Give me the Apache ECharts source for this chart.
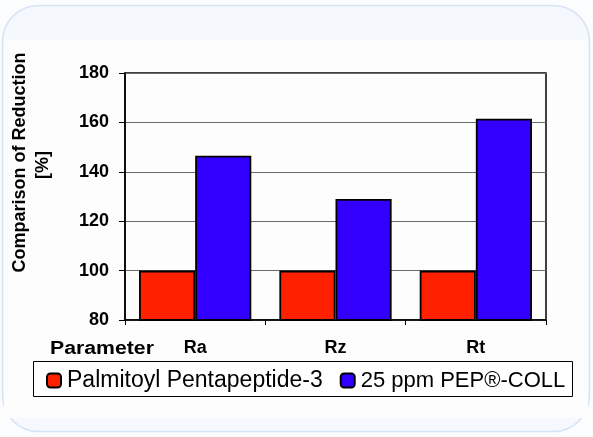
<!DOCTYPE html>
<html><head><meta charset="utf-8">
<script src="https://cdn.jsdelivr.net/npm/echarts@6/dist/echarts.min.js"></script>
<style>html,body{margin:0;padding:0;background:#fbfcfe;}#c{width:593px;height:437px;}</style>
</head><body><div id="c"></div>
<script>
var categories = ['Ra', 'Rz', 'Rt'];
var palmitoyl = [100, 100, 100];
var pepColl = [146.5, 129, 161.5];
var yTicks = {min: 80, max: 180, interval: 20};
var seriesNames = ['Palmitoyl Pentapeptide-3', '25 ppm PEP\u00AE-COLL'];

var chart = echarts.init(document.getElementById('c'), null, {renderer: 'canvas'});
var F = '"Liberation Sans", Arial, sans-serif';
chart.setOption({
  animation: false,
  backgroundColor: '#fbfcfe',
  graphic: [
    {type: 'rect', z: -10, shape: {x: 2.5, y: 5.5, width: 587, height: 426, r: 36},
     style: {fill: '#f5f8fc', stroke: '#d6e3f7', lineWidth: 1.5}},
    {type: 'rect', z: -9, shape: {x: 4, y: 40, width: 584, height: 378},
     style: {fill: '#fdfdfd'}},
    {type: 'rect', z: 5, shape: {x: 33.5, y: 361.5, width: 539, height: 35},
     style: {fill: '#ffffff', stroke: '#000', lineWidth: 1}},
    {type: 'text', z: 6, x: 50, y: 349.5, scaleX: 1.18,
     style: {text: 'Parameter', font: 'bold 18px ' + F, fill: '#000', textVerticalAlign: 'middle'}},
    {type: 'text', z: 6, x: 20, y: 162.5, rotation: Math.PI / 2,
     style: {text: 'Comparison of Reduction', font: 'bold 18px ' + F, fill: '#000', textAlign: 'center', textVerticalAlign: 'middle'}},
    {type: 'text', z: 6, x: 43, y: 165, rotation: Math.PI / 2,
     style: {text: '[%]', font: 'bold 18px ' + F, fill: '#000', textAlign: 'center', textVerticalAlign: 'middle'}}
  ],
  grid: {left: 125, right: 47, top: 73, bottom: 117, show: true, borderColor: '#000', borderWidth: 1.5, backgroundColor: 'transparent'},
  legend: {
    z: 10, left: 41, top: 364, itemWidth: 14, itemHeight: 14, itemGap: 17,
    icon: 'roundRect',
    textStyle: {fontFamily: F, fontSize: 23, color: '#000', padding: [0,0,0,1]},
    data: [
      {name: seriesNames[0]},
      {name: seriesNames[1], textStyle: {fontSize: 22}}
    ]
  },
  xAxis: {
    type: 'category', data: categories,
    axisLine: {lineStyle: {color: '#000', width: 1.5}},
    axisTick: {show: true, length: 5, lineStyle: {color: '#000'}},
    axisLabel: {fontFamily: F, fontWeight: 'bold', fontSize: 18, color: '#000', margin: 19}
  },
  yAxis: {
    type: 'value', min: yTicks.min, max: yTicks.max, interval: yTicks.interval,
    axisLine: {show: true, lineStyle: {color: '#000', width: 1.5}},
    axisTick: {show: true, length: 6, lineStyle: {color: '#000'}},
    axisLabel: {fontFamily: F, fontWeight: 'bold', fontSize: 18, color: '#000', margin: 16},
    splitLine: {lineStyle: {color: '#6a6a6a', width: 1}}
  },
  series: [
    {name: seriesNames[0], type: 'bar', data: palmitoyl, barGap: '0%', barCategoryGap: '20%',
     itemStyle: {color: '#ff2000', borderColor: '#000', borderWidth: 1.8}},
    {name: seriesNames[1], type: 'bar', data: pepColl,
     itemStyle: {color: '#3300ff', borderColor: '#000', borderWidth: 1.8}}
  ]
});
</script></body></html>
